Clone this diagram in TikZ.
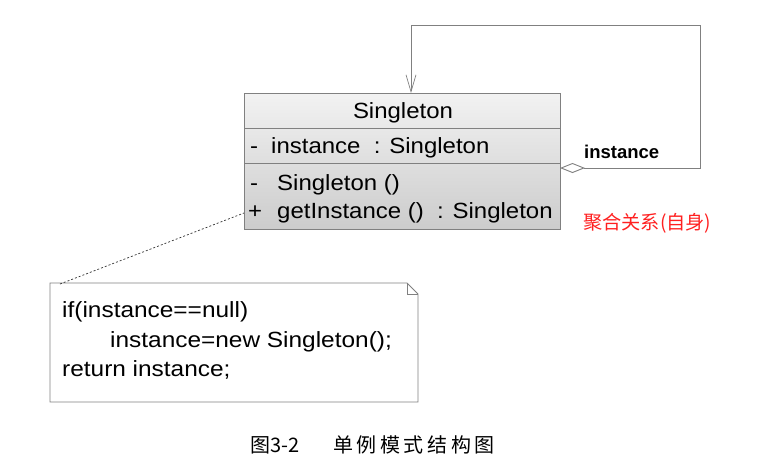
\documentclass[tikz,border=0pt]{standalone}
\usepackage{fontspec}
\setmainfont{Liberation Sans}
\newfontfamily\umlfont[FakeStretch=1.09]{Liberation Sans}
\newfontfamily\notefont[FakeStretch=1.11]{Liberation Sans}
\newfontfamily\cjk{Noto Sans CJK SC}
\newfontfamily\cjkcap[LetterSpace=18]{Noto Sans CJK SC}
\usetikzlibrary{arrows.meta}
\definecolor{umlline}{HTML}{808080}
\definecolor{umltop}{HTML}{F2F2F2}
\definecolor{umlbot}{HTML}{CCCCCC}
\definecolor{redtxt}{HTML}{FF2020}
\tikzset{
  umltext/.style={inner sep=0pt, anchor=base west, font=\umlfont\fontsize{22}{24}\selectfont},
  notetext/.style={inner sep=0pt, anchor=base west, font=\notefont\fontsize{22}{24}\selectfont},
  conn/.style={draw=umlline, line width=0.9pt},
}
\begin{document}
\begin{tikzpicture}[x=1pt,y=-1pt]
\useasboundingbox (0,0) rectangle (761,475);
% class box
\node[draw=umlline, line width=0.9pt, top color=umltop, bottom color=umlbot,
      minimum width=316pt, minimum height=136pt, inner sep=0pt] (cls) at (402,161) {};
\draw[umlline, line width=0.9pt] (244,128) -- (560,128);
\draw[umlline, line width=0.9pt] (244,163) -- (560,163);
\node[umltext, anchor=base] (title) at (403,118) {Singleton};
\node[umltext] (a1s) at (250,153) {-};
\node[umltext] (a1) at (271,153) {instance\ \ : Singleton};
\node[umltext] (m1s) at (250,190) {-};
\node[umltext] (m1) at (277,190) {Singleton ()};
\node[umltext] (m2s) at (248,218) {+};
\node[umltext] (m2) at (277,218) {getInstance ()\ \ : Singleton};
% self aggregation
\coordinate (aggstart) at (560,168);
\coordinate (c1) at (700,168);
\coordinate (c2) at (700,25);
\coordinate (c3) at (411,25);
\coordinate (clstop) at (411,93);
\draw[conn, {Diamond[open,length=25pt,width=10pt,line width=0.9pt]}-{Straight Barb[length=17pt,width=10pt,line width=0.7pt]}]
  (aggstart) -- (c1) -- (c2) -- (c3) -- (clstop);
\node[inner sep=0pt, anchor=base west, font=\bfseries\fontsize{18.5}{20}\selectfont] (inst) at (584,158) {instance};
\node[inner sep=0pt, anchor=base west, text=redtxt, font=\cjk\fontsize{19.2}{20}\selectfont] (rel) at (583,229) {聚合关系(自身)};
% note
\coordinate (ntl) at (50,283);
\draw[umlline, line width=0.9pt, fill=white] (50,283) -- (407,283) -- (418,294) -- (418,402) -- (50,402) -- cycle;
\draw[umlline, line width=0.8pt] (407,283) -- (407,294) -- (418,294);
\node[notetext] (n1) at (62,317) {if(instance==null)};
\node[notetext] (n2) at (110,347) {instance=new Singleton();};
\node[notetext] (n3) at (62,376) {return instance;};
\coordinate (nanchor) at (60,284);
\coordinate (canchor) at (244,213);
\draw[black!80, line width=0.7pt, dash pattern=on 2pt off 2pt] (nanchor) -- (canchor);
% caption
\node[inner sep=0pt, anchor=base west, font=\cjk\fontsize{20}{22}\selectfont] (cap1) at (250,452) {图3-2};
\node[inner sep=0pt, anchor=base west, font=\cjkcap\fontsize{20}{22}\selectfont] (cap2) at (333,452) {单例模式结构图};
\end{tikzpicture}
\end{document}
